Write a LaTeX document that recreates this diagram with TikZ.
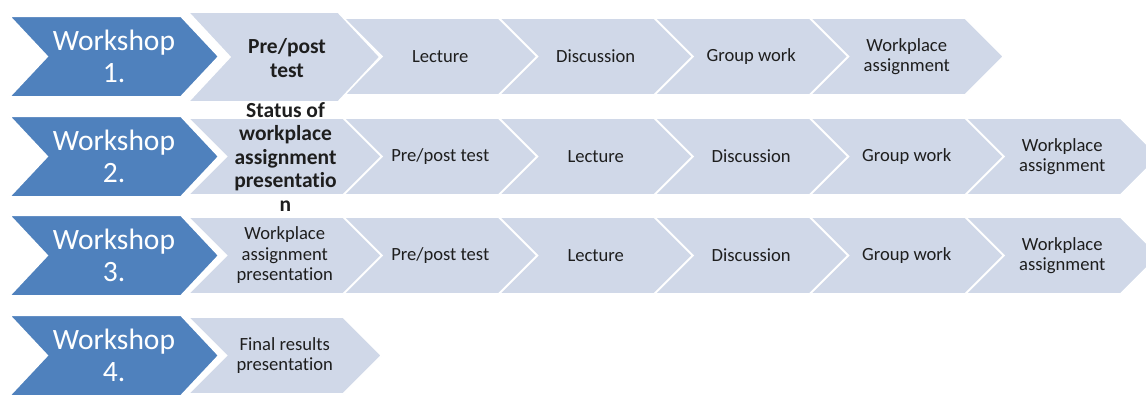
\documentclass[tikz,border=0pt]{standalone}
\usepackage{fontspec}
\setmainfont{Carlito}[Ligatures={NoCommon}]
\definecolor{wsblue}{HTML}{4F81BD}
\definecolor{steplight}{HTML}{D0D8E8}
\definecolor{steptext}{HTML}{1E1E1E}
% #1 style, #2 left x, #3 top y, #4 body width, #5 height, #6 point depth
\newcommand\chevshape[6]{\path[#1] (#2,#3) -- ++(#4,0) -- ++(#6,#5/2) -- ++(-#6,#5/2) -- ++(-#4,0) -- ++(#6,-#5/2) -- cycle;}
\begin{document}
\begin{tikzpicture}[x=1pt,y=-1pt,
  bluechev/.style={fill=wsblue, draw=white, line width=2pt},
  lightchev/.style={fill=steplight, draw=white, line width=1.6pt},
  bluetext/.style={text=white, align=center, inner sep=0pt, font=\fontsize{29.5}{32}\selectfont},
  steplabel/.style={text=steptext, align=center, inner sep=0pt, font=\fontsize{18.6}{20.5}\selectfont},
  biglabel/.style={text=steptext, align=center, inner sep=0pt, font=\fontsize{21.5}{23.5}\selectfont\bfseries},
]
\clip (0,0) rectangle (1146,394);
\fill[white] (0,0) rectangle (1146,394);

% ---------- Row 1 ----------
\chevshape{lightchev}{810}{18}{155}{77}{38.5}
\chevshape{lightchev}{654.5}{18}{155}{77}{38.5}
\chevshape{lightchev}{499}{18}{155}{77}{38.5}
\chevshape{lightchev}{343.5}{18}{155}{77}{38.5}
\chevshape{lightchev}{188}{12}{150}{90}{42}
\chevshape{bluechev}{9}{16}{172}{81}{38}

% ---------- Row 2 ----------
\chevshape{lightchev}{965.5}{118}{155}{77}{38.5}
\chevshape{lightchev}{810}{118}{155}{77}{38.5}
\chevshape{lightchev}{654.5}{118}{155}{77}{38.5}
\chevshape{lightchev}{499}{118}{155}{77}{38.5}
\chevshape{lightchev}{343.5}{118}{155}{77}{38.5}
\chevshape{lightchev}{188}{118}{155}{77}{38.5}
\chevshape{bluechev}{9}{116}{172}{81}{38}

% ---------- Row 3 ----------
\chevshape{lightchev}{965.5}{217}{155}{77}{38.5}
\chevshape{lightchev}{810}{217}{155}{77}{38.5}
\chevshape{lightchev}{654.5}{217}{155}{77}{38.5}
\chevshape{lightchev}{499}{217}{155}{77}{38.5}
\chevshape{lightchev}{343.5}{217}{155}{77}{38.5}
\chevshape{lightchev}{188}{217}{155}{77}{38.5}
\chevshape{bluechev}{9}{215}{172}{81}{38}

% ---------- Row 4 ----------
\chevshape{lightchev}{188}{317}{155}{77}{38.5}
\chevshape{bluechev}{9}{315}{172}{81}{38}

% ---------- Labels ----------
\node[bluetext] (w1) at (114,56.5) {Workshop\\1.};
\node[biglabel] (r1a) at (287,58) {Pre/post\\test};
\node[steplabel] (r1b) at (440.25,56.5) {Lecture};
\node[steplabel] (r1c) at (595.75,56.5) {Discussion};
\node[steplabel] (r1d) at (751.25,56.5) {Group work};
\node[steplabel] (r1e) at (906.75,56.5) {Workplace\\assignment};

\node[bluetext] (w2) at (114,156.5) {Workshop\\2.};
\node[biglabel] (r2a) at (285.5,157) {Status of\\workplace\\assignment\\presentatio\\n};
\node[steplabel] (r2b) at (440.25,156.5) {Pre/post test};
\node[steplabel] (r2c) at (595.75,156.5) {Lecture};
\node[steplabel] (r2d) at (751.25,156.5) {Discussion};
\node[steplabel] (r2e) at (906.75,156.5) {Group work};
\node[steplabel] (r2f) at (1062.25,156.5) {Workplace\\assignment};

\node[bluetext] (w3) at (114,255.5) {Workshop\\3.};
\node[steplabel] (r3a) at (284.75,255.5) {Workplace\\assignment\\presentation};
\node[steplabel] (r3b) at (440.25,255.5) {Pre/post test};
\node[steplabel] (r3c) at (595.75,255.5) {Lecture};
\node[steplabel] (r3d) at (751.25,255.5) {Discussion};
\node[steplabel] (r3e) at (906.75,255.5) {Group work};
\node[steplabel] (r3f) at (1062.25,255.5) {Workplace\\assignment};

\node[bluetext] (w4) at (114,355.5) {Workshop\\4.};
\node[steplabel] (r4a) at (284.75,355.5) {Final results\\presentation};
\end{tikzpicture}
\end{document}
